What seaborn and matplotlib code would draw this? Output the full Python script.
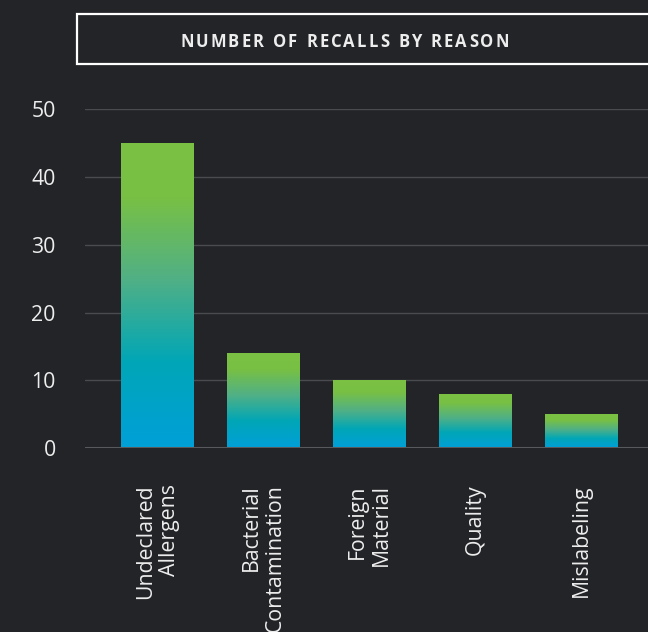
import numpy as np
import pandas as pd
import matplotlib
matplotlib.use("Agg")
import matplotlib.pyplot as plt
from matplotlib.colors import LinearSegmentedColormap
from matplotlib.patches import Rectangle
import seaborn as sns

# Recall counts by reason
reasons = ["Undeclared\nAllergens", "Bacterial\nContamination", "Foreign\nMaterial",
           "Quality", "Mislabeling"]
recalls = [45, 14, 10, 8, 5]
y_ticks = [0, 10, 20, 30, 40, 50]
title = "NUMBER OF RECALLS BY REASON"

BG = "#232428"
GRID = "#4a4b4f"
TEXT = "#ededed"

sns.set_theme(style="dark")
plt.rcParams["font.family"] = ["Open Sans", "DejaVu Sans"]

W, H, DPI = 648, 632, 100
fig = plt.figure(figsize=(W / DPI, H / DPI), dpi=DPI, facecolor=BG)
ax = fig.add_axes([85 / W, (H - 448.3) / H, (W - 85) / W, (448.3 - 109) / H])
ax.set_facecolor(BG)

df = pd.DataFrame({"reason": reasons, "recalls": recalls})
sns.barplot(data=df, x="reason", y="recalls", ax=ax, width=0.68,
            color="#00a5b6", saturation=1, zorder=3)

ax.set_xlim(-0.684, 4.63)
ax.set_ylim(0, 50)
ax.set_yticks(y_ticks)
ax.set_xlabel("")
ax.set_ylabel("")
for s in ax.spines.values():
    s.set_visible(False)
ax.grid(False)
for t in y_ticks[1:]:
    ax.axhline(t, color=GRID, lw=1.0, zorder=1)
ax.axhline(0, color="#58595d", lw=2.2, zorder=5)

ax.tick_params(axis="y", length=0, pad=21, labelsize=15.3, labelcolor=TEXT)
ax.tick_params(axis="x", length=0, pad=26, labelsize=15.3, labelcolor=TEXT)
ax.set_xticks(range(len(reasons)))
ax.set_xticklabels(reasons, rotation=90, ha="center", va="top")
for lab in ax.get_xticklabels():
    lab.set_multialignment("right")
    lab.set_linespacing(1.13)

# Vertical blue-to-green gradient inside each bar
cmap = LinearSegmentedColormap.from_list(
    "recall_grad",
    [(0.0, "#00a0d9"), (0.28, "#00a6b7"), (0.55, "#50b086"), (0.82, "#78c044"), (1.0, "#7ac143")],
)
grad = np.linspace(0, 1, 256).reshape(-1, 1)
for bar in ax.patches:
    x, w, h = bar.get_x(), bar.get_width(), bar.get_height()
    bar.set_facecolor("none")
    bar.set_edgecolor("none")
    im = ax.imshow(grad, cmap=cmap, origin="lower", aspect="auto",
                   extent=[x, x + w, 0, h], zorder=3, interpolation="bilinear")
    im.set_clip_path(bar)
ax.set_xlim(-0.684, 4.63)
ax.set_ylim(0, 50)

# Title box
fig.patches.append(Rectangle((77 / W, (H - 64) / H), 1.0, 50 / H, transform=fig.transFigure,
                             facecolor=BG, edgecolor="white", lw=1.6, zorder=2))

# Letter-spaced title
fig.canvas.draw()
renderer = fig.canvas.get_renderer()
fs = 12.0
track = 2.1
space = 5.0
widths = []
for ch in title:
    if ch == " ":
        widths.append(space)
        continue
    t = fig.text(0, 0, ch, fontsize=fs, fontweight="bold")
    widths.append(t.get_window_extent(renderer).width)
    t.remove()
total = sum(widths) + track * (len(title) - 1)
cx, cy = 344.5, H - 39.7
x0 = cx - total / 2
for ch, wd in zip(title, widths):
    if ch != " ":
        fig.text(x0 / W, cy / H, ch, fontsize=fs, fontweight="bold", color=TEXT,
                 ha="left", va="center_baseline", zorder=3)
    x0 += wd + track

fig.savefig("out.png", dpi=DPI, facecolor=BG)
